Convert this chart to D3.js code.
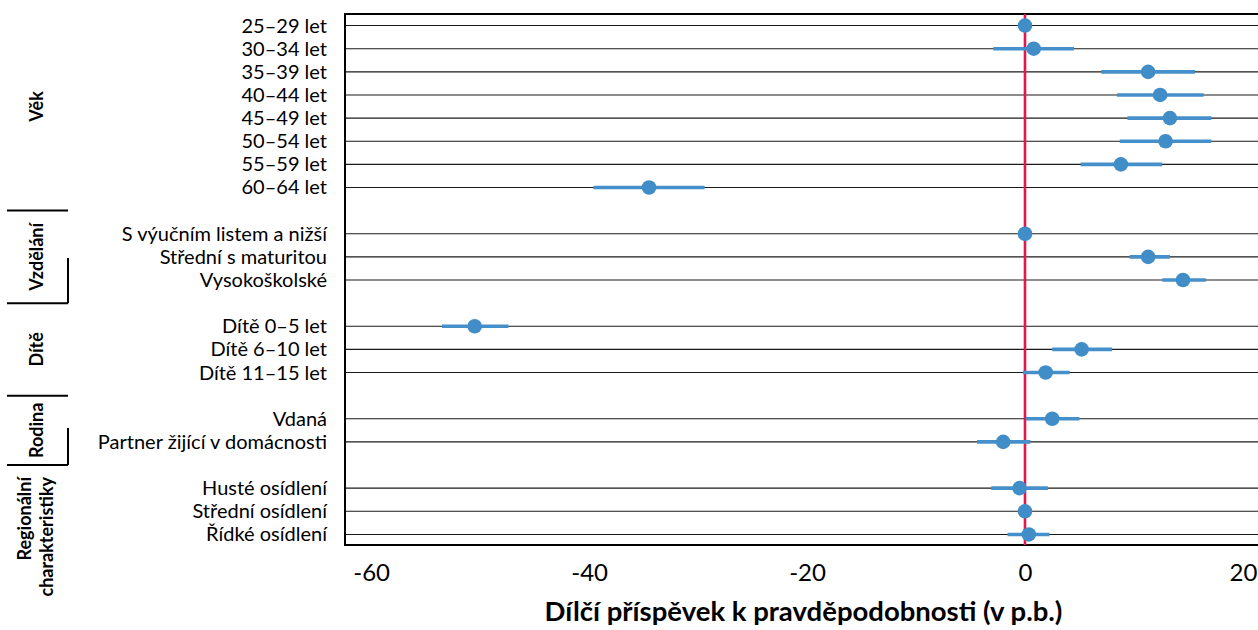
<!DOCTYPE html>
<html>
<head>
<meta charset="utf-8">
<script src="https://cdn.jsdelivr.net/npm/d3@7"></script>
<style>
  html, body { margin: 0; padding: 0; background: #fff; }
  svg { display: block; }
  text { font-family: Lato, "Open Sans", sans-serif; fill: #000; }
</style>
</head>
<body>
<svg id="chart" width="1258" height="630"></svg>
<script>
// Groups of explanatory variables, drawn as rotated labels on the left
const groups = ["Věk", "Vzdělání", "Dítě", "Rodina", "Regionální charakteristiky"];

// Categories (top to bottom) and the group each belongs to
const categories = [
  "25–29 let", "30–34 let", "35–39 let", "40–44 let", "45–49 let", "50–54 let", "55–59 let", "60–64 let",
  "S výučním listem a nižší", "Střední s maturitou", "Vysokoškolské",
  "Dítě 0–5 let", "Dítě 6–10 let", "Dítě 11–15 let",
  "Vdaná", "Partner žijící v domácnosti",
  "Husté osídlení", "Střední osídlení", "Řídké osídlení"
];
const categoryGroup = [0,0,0,0,0,0,0,0, 1,1,1, 2,2,2, 3,3, 4,4,4];

// Point estimates and confidence bounds (p.b.); null = reference category
const estimates = [0, 0.8, 11.3, 12.4, 13.3, 12.9, 8.8, -34.5,
                   0, 11.3, 14.5,
                   -50.5, 5.2, 1.9,
                   2.5, -2.0,
                   -0.5, 0, 0.35];
const lower = [null, -2.9, 7.0, 8.45, 9.4, 8.7, 5.1, -39.6,
               null, 9.6, 12.6,
               -53.5, 2.5, -0.2,
               0.1, -4.4,
               -3.1, null, -1.6];
const upper = [null, 4.5, 15.6, 16.4, 17.1, 17.1, 12.6, -29.4,
               null, 13.3, 16.6,
               -47.4, 8.0, 4.1,
               5.0, 0.5,
               2.1, null, 2.25];

const xTicks = [-60, -40, -20, 0, 20];
const xTitle = "Dílčí příspěvek k pravděpodobnosti (v p.b.)";

const svg = d3.select("#chart");
const plot = { left: 345, right: 1262, top: 14, bottom: 546 };

// one empty slot between consecutive groups
const slots = categories.map((c, i) => i + categoryGroup[i]);
const slotCount = slots[slots.length - 1] + 1;

const x = d3.scaleLinear().domain([-62.4, 21.75]).range([plot.left, plot.right]);
const y = d3.scaleBand().domain(d3.range(slotCount)).range([plot.top, plot.bottom]).padding(0);
const yc = i => y(slots[i]) + y.bandwidth() / 2;

// row lines
svg.append("g").selectAll("line").data(categories).join("line")
  .attr("x1", plot.left).attr("x2", plot.right)
  .attr("y1", (d, i) => yc(i)).attr("y2", (d, i) => yc(i))
  .attr("stroke", "#1a1a1a").attr("stroke-width", 1.1);

// plot frame
svg.append("rect")
  .attr("x", plot.left).attr("y", plot.top)
  .attr("width", plot.right - plot.left).attr("height", plot.bottom - plot.top - 1)
  .attr("fill", "none").attr("stroke", "#000").attr("stroke-width", 2);

// zero reference line
svg.append("line")
  .attr("x1", x(0)).attr("x2", x(0))
  .attr("y1", plot.top).attr("y2", plot.bottom - 1)
  .attr("stroke", "#e3164e").attr("stroke-width", 2.6);

// confidence intervals
const ci = categories.map((c, i) => i).filter(i => lower[i] !== null);
svg.append("g").selectAll("line").data(ci).join("line")
  .attr("x1", i => x(lower[i])).attr("x2", i => x(upper[i]))
  .attr("y1", i => yc(i)).attr("y2", i => yc(i))
  .attr("stroke", "#4590ca").attr("stroke-width", 3.6);

// point estimates
svg.append("g").selectAll("circle").data(estimates).join("circle")
  .attr("cx", d => x(d)).attr("cy", (d, i) => yc(i)).attr("r", 7.3)
  .attr("fill", "#408dc7");

// category labels
svg.append("g").selectAll("text").data(categories).join("text")
  .attr("x", 327).attr("y", (d, i) => yc(i)).attr("dy", "0.35em")
  .attr("text-anchor", "end").attr("font-size", 20)
  .text(d => d);

// x axis tick labels
const xAxis = d3.axisBottom(x).tickValues(xTicks).tickSize(0).tickPadding(0)
  .tickFormat(d => d === 0 ? "0" : (d < 0 ? "-" + Math.abs(d) : String(d)));
const ax = svg.append("g").attr("transform", `translate(0, ${plot.bottom})`).call(xAxis);
ax.select(".domain").remove();
ax.selectAll("text").attr("y", 27).attr("dy", "0.35em")
  .attr("font-size", 24).attr("font-family", "Lato, sans-serif").attr("fill", "#000");

// x axis title
svg.append("text")
  .attr("x", (plot.left + plot.right) / 2).attr("y", 611).attr("dy", "0.35em")
  .attr("text-anchor", "middle").attr("font-size", 27.5).attr("font-weight", "bold")
  .text(xTitle);

// group labels and separators
const groupRange = groups.map((g, gi) => {
  const idx = categories.map((c, i) => i).filter(i => categoryGroup[i] === gi);
  return { first: idx[0], last: idx[idx.length - 1] };
});
const sepY = groupRange.slice(0, -1).map(r => y(slots[r.last] + 1) + y.bandwidth() / 2);

svg.append("g").selectAll("line").data(sepY).join("line")
  .attr("x1", 7).attr("x2", 68).attr("y1", d => d).attr("y2", d => d)
  .attr("stroke", "#000").attr("stroke-width", 2);

// short vertical strokes beside the Vzdělání and Rodina labels
svg.append("g").selectAll("line").data([[258, sepY[1]], [428, sepY[3]]]).join("line")
  .attr("x1", 68).attr("x2", 68).attr("y1", d => d[0]).attr("y2", d => d[1])
  .attr("stroke", "#000").attr("stroke-width", 2);

const gLabels = svg.append("g");
groups.forEach((g, gi) => {
  const r = groupRange[gi];
  const words = g.split(" ");
  if (words.length > 1) {
    // two-line label, end-aligned just below the last separator
    const t = gLabels.append("text")
      .attr("transform", `translate(25, 477) rotate(-90)`)
      .attr("text-anchor", "end").attr("font-size", 18).attr("font-weight", "bold");
    words.forEach((w, wi) => {
      t.append("tspan").attr("x", 0).attr("dy", wi === 0 ? "0.35em" : "1.2em").text(w);
    });
  } else {
    const cy = (yc(r.first) + yc(r.last)) / 2;
    gLabels.append("text")
      .attr("transform", `translate(37, ${cy}) rotate(-90)`)
      .attr("text-anchor", "middle").attr("dy", "0.35em")
      .attr("font-size", 18).attr("font-weight", "bold")
      .text(g);
  }
});
</script>
</body>
</html>
